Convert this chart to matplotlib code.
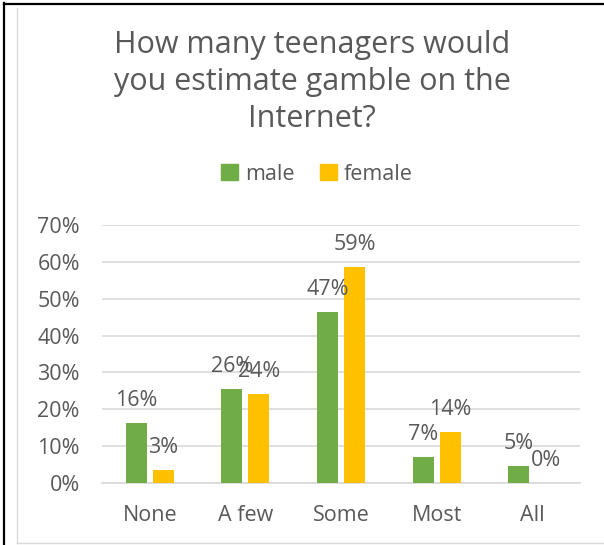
import numpy as np
import matplotlib
matplotlib.use("Agg")
import matplotlib.pyplot as plt
from matplotlib.patches import Patch
from matplotlib.lines import Line2D

categories = ["None", "A few", "Some", "Most", "All"]
male = [16.3, 25.6, 46.4, 7.0, 4.7]
female = [3.5, 24.2, 58.5, 13.9, 0.0]
male_labels = ["16%", "26%", "47%", "7%", "5%"]
female_labels = ["3%", "24%", "59%", "14%", "0%"]
yticks = [0, 10, 20, 30, 40, 50, 60, 70]

green = "#70AD47"
gold = "#FFC000"
grey = "#595959"

plt.rcParams["font.family"] = ["Open Sans", "DejaVu Sans"]

fig = plt.figure(figsize=(6.04, 5.45), dpi=100)
W, H = 604, 545

# frame lines: black outer, light grey chart border
fig.add_artist(Line2D([3.5 / W, 3.5 / W], [0, 1 - 3 / H], color="black", lw=1.6))
fig.add_artist(Line2D([3.5 / W, 1], [1 - 3.5 / H, 1 - 3.5 / H], color="black", lw=1.6))
fig.add_artist(Line2D([17 / W, 17 / W], [2 / H, 1 - 8 / H], color="#D9D9D9", lw=1))
fig.add_artist(Line2D([17 / W, 1], [2 / H, 2 / H], color="#D9D9D9", lw=1))

ax = fig.add_axes([102 / W, 62 / H, (580 - 102) / W, (483 - 225) / H])
x = np.arange(len(categories))
w = 0.22
off = 0.142
ax.bar(x - off, male, w, color=green, zorder=3)
ax.bar(x + off, female, w, color=gold, zorder=3)

for xi, v, lab in zip(x, male, male_labels):
    ax.annotate(lab, (xi - off, v), xytext=(0, 12.3), textcoords="offset points",
                ha="center", va="baseline", fontsize=15.5, color=grey, zorder=4)
for xi, v, lab in zip(x, female, female_labels):
    ax.annotate(lab, (xi + off, v), xytext=(0, 12.3), textcoords="offset points",
                ha="center", va="baseline", fontsize=15.5, color=grey, zorder=4)

ax.set_xlim(-0.5, len(categories) - 0.5)
ax.set_ylim(0, 70)
ax.set_yticks(yticks)
ax.set_yticklabels([f"{t}%" for t in yticks])
ax.set_xticks(x)
ax.set_xticklabels(categories)
ax.tick_params(axis="both", length=0, labelsize=15.5, labelcolor=grey)
ax.tick_params(axis="y", pad=16)
ax.tick_params(axis="x", pad=16)
ax.grid(axis="y", color="#D9D9D9", lw=1.2, zorder=0)
for s in ["left", "right", "top"]:
    ax.spines[s].set_visible(False)
ax.spines["bottom"].set_color("#D9D9D9")
ax.spines["bottom"].set_linewidth(1.2)

fig.text(312 / W, 1 - 82 / H, "How many teenagers would\nyou estimate gamble on the\nInternet?",
         ha="center", va="center", fontsize=22, color=grey, linespacing=1.3)

handles = [Patch(color=green, label="male"), Patch(color=gold, label="female")]
fig.legend(handles=handles, loc="center", bbox_to_anchor=(317 / W, 1 - 174 / H), ncol=2,
           frameon=False, fontsize=15.5, labelcolor=grey, handlelength=0.8, handleheight=0.8,
           handletextpad=0.3, columnspacing=1.2)

fig.savefig("out.png", dpi=100)
